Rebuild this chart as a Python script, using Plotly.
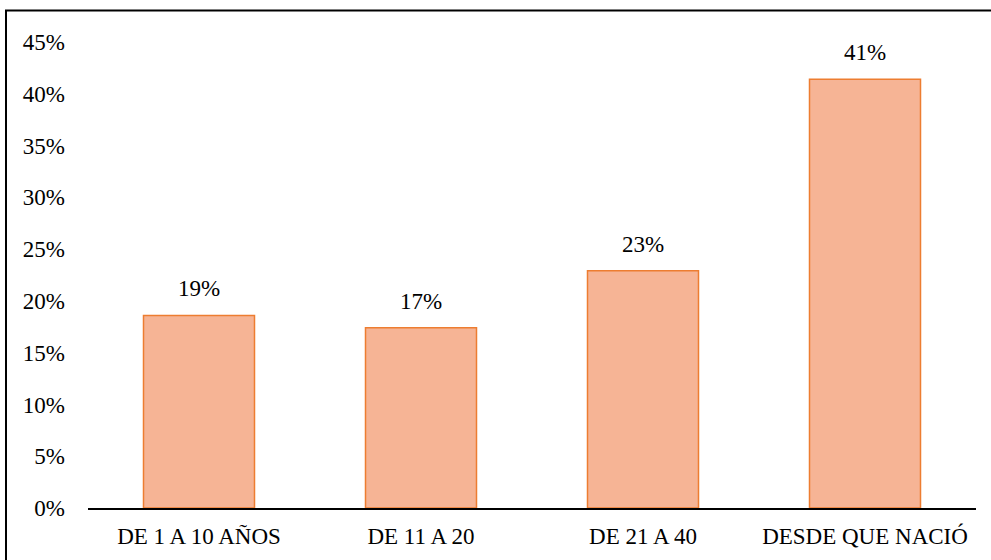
import plotly.graph_objects as go

categories = ["DE 1 A 10 AÑOS", "DE 11 A 20", "DE 21 A 40", "DESDE QUE NACIÓ"]
values = [18.6, 17.4, 22.9, 41.4]
tick_vals = [0, 5, 10, 15, 20, 25, 30, 35, 40, 45]
tick_text = [f"{v}%" for v in tick_vals]

FONT = "Liberation Serif"
FS = 23

fig = go.Figure(go.Bar(
    x=categories, y=values,
    width=0.5,
    marker=dict(color="#F6B495", line=dict(color="#ED7D31", width=1.5)),
    cliponaxis=False,
))

annotations = [dict(x=c, y=v, text=f"{v:.0f}%", showarrow=False, yanchor="bottom",
                    yshift=12, font=dict(family=FONT, size=FS, color="black"))
               for c, v in zip(categories, values)]

fig.update_layout(
    width=991, height=560,
    margin=dict(l=88, r=15, t=42, b=52),
    paper_bgcolor="white", plot_bgcolor="white",
    showlegend=False,
    font=dict(family=FONT, size=FS, color="black"),
    annotations=annotations,
    shapes=[dict(type="rect", xref="paper", yref="paper",
                 x0=(6 - 88) / 888, x1=(1000 - 88) / 888,
                 y0=(508 - 570) / 466, y1=(508 - 10.5) / 466,
                 line=dict(color="black", width=2), fillcolor="rgba(0,0,0,0)",
                 layer="below")],
)
fig.update_xaxes(showline=True, linecolor="black", linewidth=1.5, ticks="",
                 showgrid=False, tickfont=dict(family=FONT, size=FS, color="black"),
                 ticklabelstandoff=7)
fig.update_yaxes(range=[0, 45], tickvals=tick_vals, ticktext=tick_text,
                 showgrid=False, zeroline=False, showline=False, ticks="",
                 tickfont=dict(family=FONT, size=FS, color="black"),
                 ticklabelstandoff=22)

fig.write_html("out.html", config={"displayModeBar": False},
               post_script="document.body.style.margin='0';document.body.style.overflow='hidden';")
